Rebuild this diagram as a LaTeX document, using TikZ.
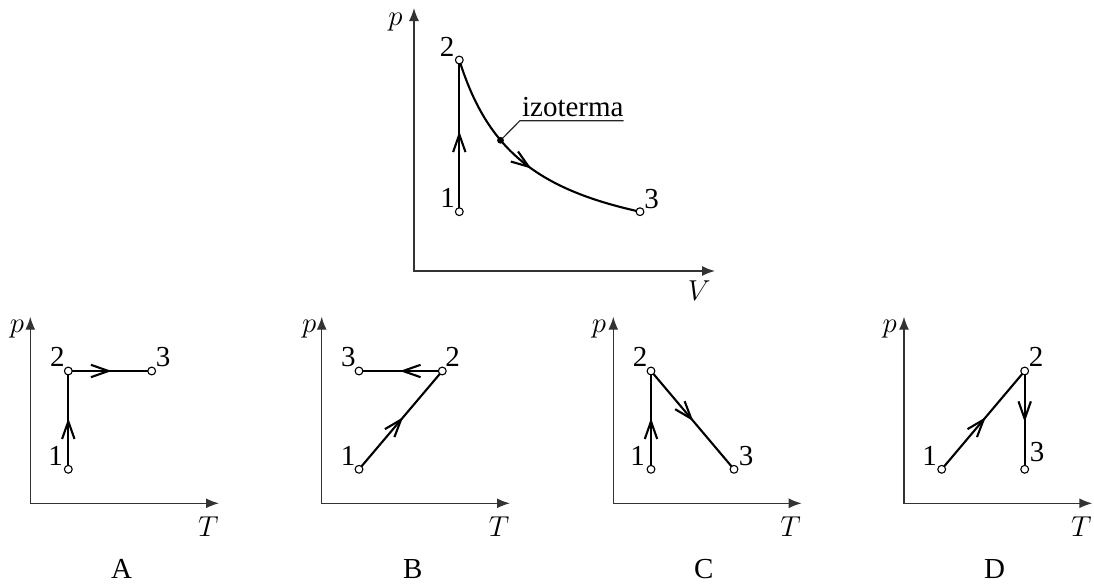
\documentclass[tikz,border=0pt]{standalone}
\usepackage{fontspec}
\setmainfont{Liberation Serif}
\usetikzlibrary{arrows.meta,decorations.markings}
\tikzset{
  axis/.style={draw=black!80, line width=0.7pt, {Latex[length=6.5pt,width=5pt]}-{Latex[length=6.5pt,width=5pt]}},
  proc/.style={draw=black, line width=1.05pt},
  midarrow/.style={postaction={decorate,decoration={markings,mark=at position #1 with {\arrow{Straight Barb[length=8.8pt,width=6.2pt]}}}}},
  state/.style={circle, draw=black, fill=white, line width=0.55pt, minimum size=3.9pt, inner sep=0pt},
  blackdot/.style={circle, fill=black, minimum size=3.4pt, inner sep=0pt},
  lbl/.style={font=\fontsize{14.5}{17}\selectfont, inner sep=0pt, anchor=base},
  leader/.style={draw=black!85, line width=0.55pt},
}
\begin{document}
\begin{tikzpicture}[x=0.5pt,y=-0.5pt]
\useasboundingbox (0,0) rectangle (1094,584);

% ---------- top p-V diagram ----------
\coordinate (Y0) at (414,8);
\coordinate (X0) at (715,271);
\draw[axis] (Y0) |- (X0);
\coordinate (t1) at (459.3,211.7);
\coordinate (t2) at (459.3,60);
\coordinate (t3) at (640,211.7);
\coordinate (tdot) at (500.5,140.3);
\coordinate (tknee) at (520,120.7);
\coordinate (tend) at (623.5,120.7);
\draw[proc, midarrow=0.53] (t1) -- (t2);
\draw[proc, midarrow=0.53] (t2) .. controls (486.9,148.2) and (535.1,188.7) .. (t3);
\draw[leader] (tdot) -- (tknee) -- (tend);
\node[blackdot] (dn) at (tdot) {};
\node[lbl] (iz) at (572.8,116.7) {izoterma};
\node[state] (n1) at (t1) {};
\node[state] (n2) at (t2) {};
\node[state] (n3) at (t3) {};
\node[lbl] (l2) at (447,56) {2};
\node[lbl] (l1) at (447.7,207.3) {1};
\node[lbl] (l3) at (651.7,208) {3};
\node[lbl] (lp0) at (395.5,25) {$p$};
\node[lbl] (lV0) at (699.3,300) {$V$};

% ---------- A ----------
\coordinate (YA) at (30.3,316.7);
\coordinate (XA) at (219,503.3);
\draw[axis] (YA) |- (XA);
\coordinate (a1) at (68.3,469.3);
\coordinate (a2) at (68.3,371);
\coordinate (a3) at (151.7,371);
\draw[proc, midarrow=0.52] (a1) -- (a2);
\draw[proc, midarrow=0.52] (a2) -- (a3);
\node[state] (na1) at (a1) {};
\node[state] (na2) at (a2) {};
\node[state] (na3) at (a3) {};
\node[lbl] (la2) at (57.3,366.7) {2};
\node[lbl] (la1) at (55.7,465) {1};
\node[lbl] (la3) at (163,366.7) {3};
\node[lbl] (lpA) at (17,332.5) {$p$};
\node[lbl] (lTA) at (208.3,536.7) {$T$};
\node[lbl] (capA) at (121.7,578.3) {A};

% ---------- B ----------
\coordinate (YB) at (321.7,316.7);
\coordinate (XB) at (510,503.3);
\draw[axis] (YB) |- (XB);
\coordinate (b1) at (359,469.3);
\coordinate (b2) at (442.3,371);
\coordinate (b3) at (359,371);
\draw[proc, midarrow=0.53] (b1) -- (b2);
\draw[proc, midarrow=0.51] (b2) -- (b3);
\node[state] (nb1) at (b1) {};
\node[state] (nb2) at (b2) {};
\node[state] (nb3) at (b3) {};
\node[lbl] (lb3) at (348.3,366.7) {3};
\node[lbl] (lb2) at (452.7,366.7) {2};
\node[lbl] (lb1) at (348,465) {1};
\node[lbl] (lpB) at (309.2,332.5) {$p$};
\node[lbl] (lTB) at (499,536.7) {$T$};
\node[lbl] (capB) at (412.7,578.3) {B};

% ---------- C ----------
\coordinate (YC) at (613.3,316.7);
\coordinate (XC) at (801.7,503.3);
\draw[axis] (YC) |- (XC);
\coordinate (c1) at (651,469.3);
\coordinate (c2) at (651,371);
\coordinate (c3) at (734,469.3);
\draw[proc, midarrow=0.52] (c1) -- (c2);
\draw[proc, midarrow=0.51] (c2) -- (c3);
\node[state] (nc1) at (c1) {};
\node[state] (nc2) at (c2) {};
\node[state] (nc3) at (c3) {};
\node[lbl] (lc2) at (640,366.7) {2};
\node[lbl] (lc1) at (637.7,465) {1};
\node[lbl] (lc3) at (746,465) {3};
\node[lbl] (lpC) at (599,332.5) {$p$};
\node[lbl] (lTC) at (790.7,536.7) {$T$};
\node[lbl] (capC) at (703.7,578.3) {C};

% ---------- D ----------
\coordinate (YD) at (904,316.7);
\coordinate (XD) at (1092.3,503.3);
\draw[axis] (YD) |- (XD);
\coordinate (d1) at (941.7,469.3);
\coordinate (d2) at (1024.7,371);
\coordinate (d3) at (1024.7,469.3);
\draw[proc, midarrow=0.53] (d1) -- (d2);
\draw[proc, midarrow=0.52] (d2) -- (d3);
\node[state] (nd1) at (d1) {};
\node[state] (nd2) at (d2) {};
\node[state] (nd3) at (d3) {};
\node[lbl] (ld1) at (929.7,465) {1};
\node[lbl] (ld2) at (1036,366.7) {2};
\node[lbl] (ld3) at (1037,461.7) {3};
\node[lbl] (lpD) at (889.7,332.5) {$p$};
\node[lbl] (lTD) at (1081.3,536.7) {$T$};
\node[lbl] (capD) at (994.7,578.3) {D};
\end{tikzpicture}
\end{document}
